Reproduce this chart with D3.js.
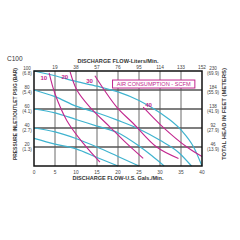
<!DOCTYPE html>
<html>
<head>
<meta charset="utf-8">
<script src="https://cdn.jsdelivr.net/npm/d3@7"></script>
<style>
  body { margin: 0; background: #fff; }
  svg { display: block; font-family: "Liberation Sans", Arial, sans-serif; }
</style>
</head>
<body>
<svg id="chart" width="240" height="240"></svg>
<script>
// flow ticks (US GPM) and matching liters/min labels on top
var gpmTicks = [0, 5, 10, 15, 20, 25, 30, 35, 40]
var lpmLabels = ["", "19", "38", "57", "76", "95", "114", "133", "152"]

// pressure ticks (psig) with bar, and head in feet with meters
var psiTicks = [20, 40, 60, 80, 100]
var barLabels = ["(1.3)", "(2.7)", "(4.1)", "(5.4)", "(6.8)"]
var feetLabels = ["46", "92", "138", "184", "230"]
var meterLabels = ["(13.9)", "(27.9)", "(41.9)", "(55.9)", "(69.9)"]

// performance curves by air inlet pressure [gpm, psig]
var head100 = [[0, 100], [5, 95], [10, 89], [15, 84], [20, 78], [25, 69], [30, 56], [35, 38], [38, 20], [40, 0]]
var head80 = [[0, 80], [5, 73], [10, 63], [15, 56], [20, 48], [25, 39], [30, 27], [34.5, 14], [37.5, 0]]
var head60 = [[0, 60], [5, 56], [10, 49], [15, 42], [20, 35], [25, 21], [28, 11], [31, 0]]
var head40 = [[0, 40], [5, 36], [10, 29], [15, 20], [20, 10], [25, 0]]
var head20 = [[0, 29], [5, 23], [10, 18], [15, 9], [20, 0]]

// air consumption curves (scfm)
var air10 = [[3.6, 98], [5, 76], [7.8, 48], [11.7, 24], [15.7, 4]]
var air20 = [[8.6, 99], [10.2, 80], [13.3, 62], [18.1, 41], [22, 24], [26, 8]]
var air30 = [[14.5, 95], [19.7, 62], [23.6, 45], [29.2, 20], [34.4, 8]]
var air40 = [[26, 62], [30.7, 41], [36.4, 20], [40, 10]]
var airNames = ["10", "20", "30", "40"]

var svg = d3.select("#chart")
var margin = { top: 71, right: 38, bottom: 74, left: 34 },
    width = 240 - margin.left - margin.right,
    height = 240 - margin.top - margin.bottom

var x = d3.scaleLinear().domain([0, 40]).range([margin.left, margin.left + width])
var y = d3.scaleLinear().domain([0, 100]).range([margin.top + height, margin.top])

var blue = "#3fb3cf", magenta = "#c2268e"

// grid
var g = svg.append("g")
g.selectAll(".vg").data(gpmTicks.slice(1, -1)).enter().append("line")
    .attr("x1", d => x(d)).attr("x2", d => x(d))
    .attr("y1", y(0)).attr("y2", y(100))
    .attr("stroke", "#444").attr("stroke-width", 0.8)
g.selectAll(".hg").data(psiTicks.slice(0, -1)).enter().append("line")
    .attr("x1", x(0)).attr("x2", x(40))
    .attr("y1", d => y(d)).attr("y2", d => y(d))
    .attr("stroke", "#555").attr("stroke-width", 1.4)

var line = d3.line().x(d => x(d[0])).y(d => y(d[1])).curve(d3.curveMonotoneX)

svg.append("g").selectAll("path")
    .data([head100, head80, head60, head40, head20]).enter().append("path")
    .attr("d", line).attr("fill", "none")
    .attr("stroke", blue).attr("stroke-width", 1.2)

var airLine = d3.line().x(d => x(d[0])).y(d => y(d[1])).curve(d3.curveCatmullRom)
svg.append("g").selectAll("path")
    .data([air10, air20, air30, air40]).enter().append("path")
    .attr("d", airLine).attr("fill", "none")
    .attr("stroke", magenta).attr("stroke-width", 1.1)

// curve labels, placed left of each curve start
var airSeries = [air10, air20, air30, air40]
svg.append("g").selectAll("text")
    .data(airSeries).enter().append("text")
    .attr("x", (d, i) => x(d[0][0]) - (i == 3 ? -2 : 2))
    .attr("y", (d, i) => y(d[0][1]) + (i == 3 ? 0 : 7))
    .attr("text-anchor", (d, i) => i == 3 ? "start" : "end")
    .attr("font-size", 6).attr("font-weight", "bold")
    .attr("fill", magenta)
    .text((d, i) => airNames[i])

// legend box
svg.append("rect")
    .attr("x", x(18.7)).attr("y", y(90.5))
    .attr("width", x(38.3) - x(18.7)).attr("height", 8)
    .attr("fill", "#fff").attr("stroke", magenta).attr("stroke-width", 1)
svg.append("text")
    .attr("x", x(28.5)).attr("y", y(90.5) + 6)
    .attr("text-anchor", "middle").attr("font-size", 5.5)
    .attr("textLength", 74).attr("lengthAdjust", "spacingAndGlyphs")
    .attr("fill", magenta).text("AIR CONSUMPTION - SCFM")

// frame
svg.append("rect")
    .attr("x", x(0)).attr("y", y(100))
    .attr("width", width).attr("height", height)
    .attr("fill", "none").attr("stroke", "#111").attr("stroke-width", 1.5)

// bottom ticks
svg.append("g").selectAll("text").data(gpmTicks).enter().append("text")
    .attr("x", d => x(d)).attr("y", y(0) + 8)
    .attr("text-anchor", "middle").attr("font-size", 4.8).attr("fill", "#444")
    .text(d => d)
// top ticks
svg.append("g").selectAll("text").data(gpmTicks).enter().append("text")
    .attr("x", d => x(d)).attr("y", y(100) - 2.5)
    .attr("text-anchor", "middle").attr("font-size", 4.8).attr("fill", "#444")
    .text((d, i) => lpmLabels[i])

// left ticks
var left = svg.append("g").selectAll("g").data(psiTicks).enter().append("g")
left.append("text").attr("x", 27).attr("y", d => y(d) - 0.8)
    .attr("text-anchor", "middle").attr("font-size", 4.6).attr("fill", "#444")
    .text(d => d)
left.append("text").attr("x", 27).attr("y", d => y(d) + 4)
    .attr("text-anchor", "middle").attr("font-size", 4.6).attr("fill", "#444")
    .text((d, i) => barLabels[i])

// right ticks
var right = svg.append("g").selectAll("g").data(psiTicks).enter().append("g")
right.append("text").attr("x", 213).attr("y", d => y(d) - 0.8)
    .attr("text-anchor", "middle").attr("font-size", 4.6).attr("fill", "#444")
    .text((d, i) => feetLabels[i])
right.append("text").attr("x", 213).attr("y", d => y(d) + 4)
    .attr("text-anchor", "middle").attr("font-size", 4.6).attr("fill", "#444")
    .text((d, i) => meterLabels[i])

// titles
svg.append("text").attr("x", 7).attr("y", 61)
    .attr("font-size", 6.5).attr("fill", "#333").text("C100")
svg.append("text").attr("x", 118).attr("y", 63)
    .attr("text-anchor", "middle").attr("font-size", 5.8).attr("font-weight", "bold")
    .attr("textLength", 81).attr("lengthAdjust", "spacingAndGlyphs")
    .attr("fill", "#333").text("DISCHARGE FLOW-Liters/Min.")
svg.append("text").attr("x", 118).attr("y", 179.5)
    .attr("text-anchor", "middle").attr("font-size", 5.8).attr("font-weight", "bold")
    .attr("textLength", 91).attr("lengthAdjust", "spacingAndGlyphs")
    .attr("fill", "#333").text("DISCHARGE FLOW-U.S. Gals./Min.")
svg.append("text")
    .attr("transform", "translate(17,114) rotate(-90)")
    .attr("text-anchor", "middle").attr("font-size", 5.8).attr("font-weight", "bold")
    .attr("textLength", 92).attr("lengthAdjust", "spacingAndGlyphs")
    .attr("fill", "#333").text("PRESSURE INLET/OUTLET PSIG (BAR)")
svg.append("text")
    .attr("transform", "translate(226,114) rotate(-90)")
    .attr("text-anchor", "middle").attr("font-size", 5.8).attr("font-weight", "bold")
    .attr("textLength", 92).attr("lengthAdjust", "spacingAndGlyphs")
    .attr("fill", "#333").text("TOTAL HEAD IN FEET (METERS)")
</script>
</body>
</html>
